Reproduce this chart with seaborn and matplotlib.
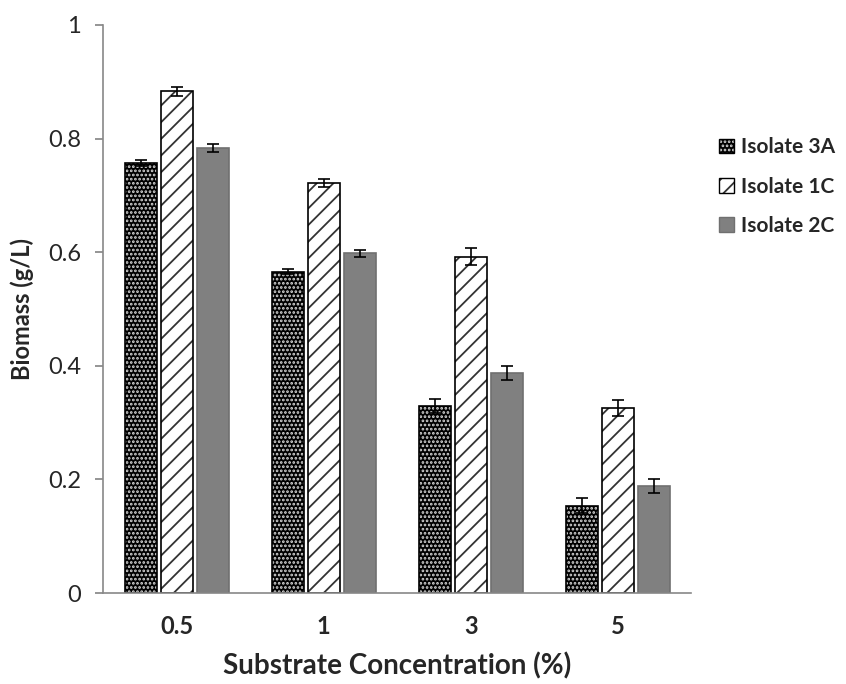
import numpy as np
import pandas as pd
import seaborn as sns
import matplotlib.pyplot as plt
from matplotlib.colors import to_rgba

concentrations = ["0.5", "1", "3", "5"]
isolates = ["Isolate 3A", "Isolate 1C", "Isolate 2C"]
biomass_3A = [0.757, 0.566, 0.329, 0.154]
biomass_1C = [0.883, 0.722, 0.592, 0.326]
biomass_2C = [0.784, 0.598, 0.387, 0.188]
err_3A = [0.006, 0.005, 0.012, 0.014]
err_1C = [0.008, 0.007, 0.015, 0.014]
err_2C = [0.007, 0.006, 0.012, 0.012]

sns.set_theme(style="white")
plt.rcParams['font.family'] = ['Lato', 'DejaVu Sans']
plt.rcParams['hatch.linewidth'] = 1.3

rows = []
for vals, errs, name in [(biomass_3A, err_3A, isolates[0]),
                         (biomass_1C, err_1C, isolates[1]),
                         (biomass_2C, err_2C, isolates[2])]:
    for c, v, e in zip(concentrations, vals, errs):
        rows.append({"conc": c, "isolate": name, "biomass": v, "err": e})
df = pd.DataFrame(rows)

fig = plt.figure(figsize=(8.46, 6.84), dpi=100)
ax = fig.add_axes([0.122, 0.133, 0.695, 0.8305])

sns.barplot(data=df, x="conc", y="biomass", hue="isolate", order=concentrations,
            hue_order=isolates, palette=["black", "white", "#808080"],
            width=0.735, gap=0.11, errorbar=None, legend=True, ax=ax)

styles = {
    isolates[0]: dict(face="black", edge="black", hatch="....", hcolor="#d8d8d8"),
    isolates[1]: dict(face="white", edge="black", hatch="//", hcolor="#333333"),
    isolates[2]: dict(face="#808080", edge="#707070", hatch="", hcolor="#707070"),
}

def style_patch(p, st):
    p.set_facecolor(st["face"])
    p.set_edgecolor(st["edge"])
    p.set_hatch(st["hatch"])
    p._hatch_color = to_rgba(st["hcolor"])

for container, name in zip(ax.containers, isolates):
    st = styles[name]
    sub = df[df.isolate == name]
    xs, ys = [], []
    for bar in container:
        style_patch(bar, st)
        bar.set_linewidth(1.2)
        xs.append(bar.get_x() + bar.get_width() / 2)
        ys.append(bar.get_height())
    ax.errorbar(xs, ys, yerr=sub["err"].values, fmt="none", ecolor="black",
                elinewidth=1.2, capsize=4.5, capthick=1.2, zorder=5)

leg = ax.legend(loc="upper left", bbox_to_anchor=(1.016, 0.835), frameon=False,
                handlelength=0.7, handleheight=0.7, handletextpad=0.35,
                labelspacing=0.92, prop={"weight": "bold", "size": 15})
for h, name in zip(leg.legend_handles, isolates):
    style_patch(h, styles[name])

ax.set_ylim(0, 1)
ax.set_xlim(-0.5, 3.5)
ax.set_yticks([0, 0.2, 0.4, 0.6, 0.8, 1.0])
ax.set_yticklabels(["0", "0.2", "0.4", "0.6", "0.8", "1"], fontsize=17)
ax.set_xticks(range(4))
ax.set_xticklabels(concentrations, fontsize=17, fontweight="bold")
ax.set_xticks([0.5, 1.5, 2.5, 3.5], minor=True)
ax.tick_params(axis="x", which="major", length=0, pad=16)
ax.tick_params(axis="x", which="minor", length=6, color="#888888", direction="out")
ax.tick_params(axis="y", length=6, color="#888888", direction="out", left=True, pad=10)

ax.set_xlabel("Substrate Concentration (%)", fontsize=20, fontweight="bold", labelpad=10)
ax.set_ylabel("Biomass (g/L)", fontsize=17, fontweight="bold", labelpad=10)

for s in ["top", "right"]:
    ax.spines[s].set_visible(False)
for s in ["left", "bottom"]:
    ax.spines[s].set_color("#888888")
    ax.spines[s].set_linewidth(1.2)

fig.savefig("out.png", dpi=100)
